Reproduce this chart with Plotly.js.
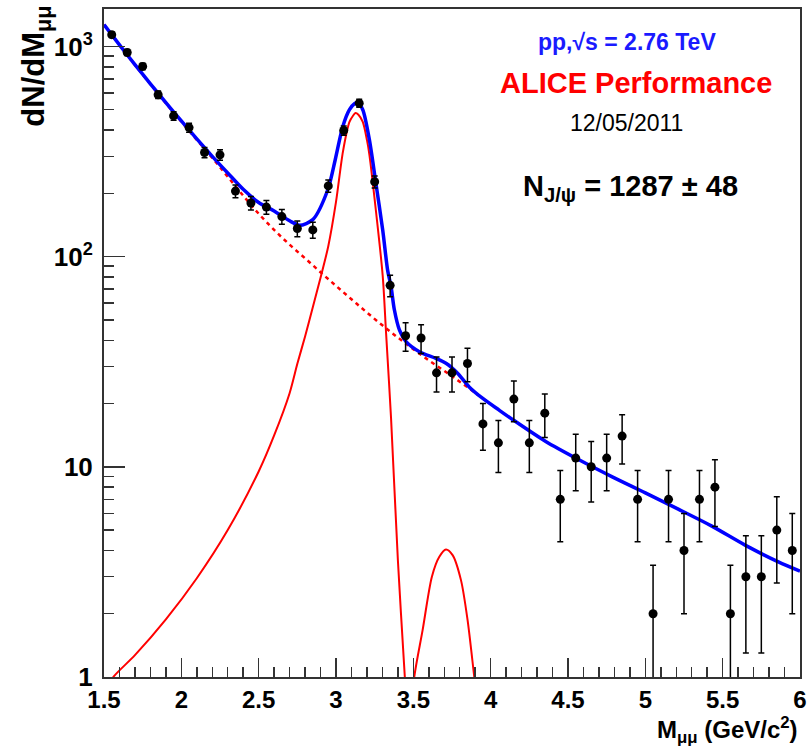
<!DOCTYPE html>
<html>
<head>
<meta charset="utf-8">
<script src="https://cdn.plot.ly/plotly-3.0.1.min.js"></script>
<style>html,body{margin:0;padding:0;background:#fff;}#chart{width:808px;height:747px;}</style>
</head>
<body>
<div id="chart"></div>
<script>
// Data points (bin centres, counts, stat. errors)
const massBins = [1.55,1.65,1.75,1.85,1.95,2.05,2.15,2.25,2.35,2.45,2.55,2.65,2.75,2.85,2.95,3.05,3.15,3.25,3.35,3.45,3.55,3.65,3.75,3.85,3.95,4.05,4.15,4.25,4.35,4.45,4.55,4.65,4.75,4.85,4.95,5.05,5.15,5.25,5.35,5.45,5.55,5.65,5.75,5.85,5.95];
const counts = [1137,936,803,589,467,411,313,305,205,180,172,155,136,134,217,398,537,227,73,42,41,28,28,31,16,13,21,13,18,7,11,10,11,14,7,2,7,4,7,8,2,3,3,5,4];
const countErr = [33.7,30.6,28.3,24.3,21.6,20.3,17.7,17.5,14.3,13.4,13.1,12.4,11.7,11.6,14.7,19.9,23.2,15.1,8.5,6.5,6.4,5.3,5.3,5.6,4.0,3.6,4.6,3.6,4.2,2.6,3.3,3.2,3.3,3.7,2.6,1.4,2.6,2.0,2.6,2.8,1.4,1.7,1.7,2.2,2.0];

// Total fit (blue)
const fitX = [1.5,1.6,1.7,1.8,1.9,2.0,2.1,2.2,2.3,2.4,2.5,2.6,2.7,2.765,2.85,2.947,2.995,3.044,3.087,3.119,3.141,3.173,3.216,3.255,3.302,3.334,3.356,3.377,3.41,3.453,3.539,3.646,3.711,3.786,3.861,3.947,4.055,4.141,4.356,4.571,4.786,5.0,5.216,5.43,5.645,5.86,6.0];
const fitY = [1269,1017,819,664,540,442,363,300,250,209,181,165,148,141,150,208,289,416,500,534,540,500,359,231,134,86,72,56,44.8,39.4,35.3,32.8,31.1,27.9,24.0,21.2,18.6,16.8,13.2,10.8,8.96,7.52,6.27,5.22,4.24,3.53,3.19];

// J/psi signal (red)
const jpsiX = [1.50,1.56,1.7,1.9,2.1,2.3,2.5,2.6,2.7,2.75,2.8,2.85,2.9,2.95,3.0,3.045,3.087,3.11,3.126,3.145,3.173,3.2,3.216,3.259,3.302,3.324,3.356,3.40,3.445,3.47];
const jpsiY = [0.85,1.0,1.27,1.88,2.95,5.0,9.5,14.1,22.4,30.9,41.7,57.5,79.4,112,182,316,437,468,482,473,437,359,305,163,81,43,17,3.6,1.0,0.5];

// psi(2S) signal (red)
const psi2sX = [3.48,3.506,3.56,3.62,3.668,3.711,3.754,3.808,3.851,3.894,3.91];
const psi2sY = [0.6,1.0,1.67,3.0,3.73,4.04,3.8,2.89,1.86,1.0,0.8];

// Background (red dashed)
const bkgX = [1.5,1.6,1.7,1.8,1.9,2.0,2.1,2.2,2.3,2.4,2.5,2.6,2.7,2.8,2.9,3.0,3.1,3.2,3.3,3.4,3.5,3.6,3.7,3.8,3.9,4.0];
const bkgY = [1268,1016,817,661,537,439,359,295,240,195,160,134,114,98.2,84.3,72.6,62.7,54.2,47.1,41.2,36.3,32.1,28.6,25.4,22.5,19.9];

// Tick labels
const xTickVals = [1.5,2,2.5,3,3.5,4,4.5,5,5.5,6];
const xTickText = ['1.5','2','2.5','3','3.5','4','4.5','5','5.5','6'];
const yTickVals = [1,10,100,1000];
const yTickText = ['1','10','10<sup>2</sup>','10<sup>3</sup>'];
const yMinorVals = [2,3,4,5,6,7,8,9,20,30,40,50,60,70,80,90,200,300,400,500,600,700,800,900];

const FONT = 'Liberation Sans, Arial, Helvetica, sans-serif';

const traces = [
  {x: bkgX, y: bkgY, type: 'scatter', mode: 'lines', line: {color: '#ff0000', width: 2.5, dash: '4px,4px', shape: 'spline'}, hoverinfo: 'skip'},
  {x: jpsiX, y: jpsiY, type: 'scatter', mode: 'lines', line: {color: '#ff0000', width: 2, shape: 'spline', smoothing: 0.8}, hoverinfo: 'skip'},
  {x: psi2sX, y: psi2sY, type: 'scatter', mode: 'lines', line: {color: '#ff0000', width: 2, shape: 'spline', smoothing: 0.8}, hoverinfo: 'skip'},
  {x: fitX, y: fitY, type: 'scatter', mode: 'lines', line: {color: '#0000ff', width: 3.5, shape: 'spline', smoothing: 0.8}, hoverinfo: 'skip'},
  {x: massBins, y: counts, type: 'scatter', mode: 'markers',
   marker: {color: '#000', size: 9},
   error_y: {type: 'data', array: countErr, visible: true, color: '#000', thickness: 1.5, width: 3}}
];

const layout = {
  width: 808, height: 747,
  margin: {l: 104, r: 8, t: 9, b: 70},
  paper_bgcolor: '#fff', plot_bgcolor: '#fff',
  showlegend: false,
  font: {family: FONT, color: '#000'},
  xaxis: {
    range: [1.5, 6], showgrid: false, zeroline: false,
    showline: true, mirror: true, linecolor: '#333', linewidth: 2,
    ticks: 'inside', ticklen: 19, tickwidth: 1.5, tickcolor: '#333',
    tickmode: 'array', tickvals: xTickVals, ticktext: xTickText,
    tickfont: {family: FONT, size: 24, weight: 'bold', color: '#000'},
    ticklabelstandoff: 0,
    minor: {dtick: 0.1, ticks: 'inside', ticklen: 10, tickwidth: 1.5, tickcolor: '#333'}
  },
  yaxis: {
    type: 'log', range: [0, 3.178], showgrid: false, zeroline: false,
    showline: true, mirror: true, linecolor: '#333', linewidth: 2,
    ticks: 'inside', ticklen: 21, tickwidth: 1.5, tickcolor: '#333',
    tickmode: 'array', tickvals: yTickVals, ticktext: yTickText,
    tickfont: {family: FONT, size: 26, weight: 'bold', color: '#000'},
    ticklabelstandoff: 4,
    minor: {tickmode: 'array', tickvals: yMinorVals, ticks: 'inside', ticklen: 10, tickwidth: 1.5, tickcolor: '#333'}
  },
  annotations: [
    {xref: 'paper', yref: 'paper', x: 0.752, y: 0.950, xanchor: 'center', yanchor: 'middle', showarrow: false,
     text: 'pp,√s = 2.76 TeV', font: {family: FONT, size: 23, weight: 'bold', color: '#1a1aff'}},
    {xref: 'paper', yref: 'paper', x: 0.765, y: 0.889, xanchor: 'center', yanchor: 'middle', showarrow: false,
     text: 'ALICE Performance', font: {family: FONT, size: 29, weight: 'bold', color: '#ff0000'}},
    {xref: 'paper', yref: 'paper', x: 0.750, y: 0.830, xanchor: 'center', yanchor: 'middle', showarrow: false,
     text: '12/05/2011', font: {family: FONT, size: 23, color: '#000'}},
    {xref: 'paper', yref: 'paper', x: 0.756, y: 0.732, xanchor: 'center', yanchor: 'middle', showarrow: false,
     text: 'N<sub>J/ψ</sub> = 1287 ± 48', font: {family: FONT, size: 29, weight: 'bold', color: '#000'}},
    {xref: 'paper', yref: 'paper', x: -0.097, y: 1.008, xanchor: 'center', yanchor: 'top', showarrow: false, textangle: -90,
     text: 'dN/dM<sub>μμ</sub>', font: {family: FONT, size: 31, weight: 'bold', color: '#000'}},
    {xref: 'paper', yref: 'paper', x: 1.0, y: -0.079, xanchor: 'right', yanchor: 'middle', showarrow: false,
     text: 'M<sub>μμ</sub> (GeV/c<sup>2</sup>)', font: {family: FONT, size: 24, weight: 'bold', color: '#000'}}
  ]
};

Plotly.newPlot('chart', traces, layout, {displayModeBar: false, staticPlot: true});
</script>
</body>
</html>
